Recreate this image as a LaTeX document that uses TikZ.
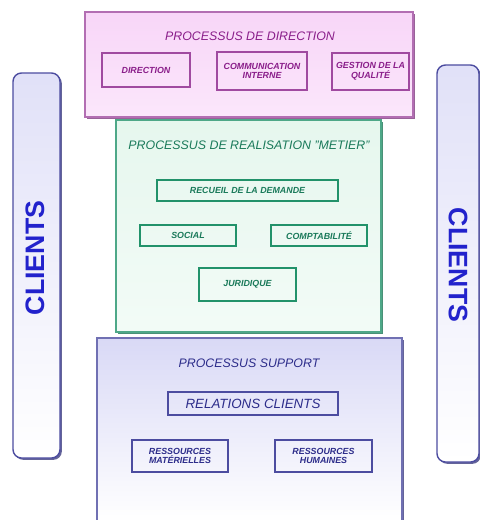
\documentclass[tikz,border=0pt]{standalone}
\usepackage{fontspec}
\setmainfont{Liberation Sans}
\usetikzlibrary{fit,shadows}

\definecolor{dirline}{HTML}{A04AA0}
\definecolor{dirfill}{HTML}{F8D6F8}
\definecolor{dirtext}{HTML}{8A1E8A}
\definecolor{metline}{HTML}{22926A}
\definecolor{metfill}{HTML}{E6F7EE}
\definecolor{mettext}{HTML}{1A7A5A}
\definecolor{supline}{HTML}{4C4CA0}
\definecolor{supfill}{HTML}{D9D9F6}
\definecolor{suptext}{HTML}{2C2C8A}
\definecolor{clitext}{HTML}{2222CC}

\tikzset{
  zone/.style={draw=#1line!80, line width=1pt, inner sep=0pt,
    drop shadow={shadow xshift=1.3pt, shadow yshift=-1.3pt, fill=#1line!80!black, opacity=0.8}},
  subbox/.style={draw=#1line, line width=1.5pt, inner sep=0pt},
  subtext/.style={align=center, text=#1text, inner sep=0pt,
    font=\fontsize{6.3}{6.8}\selectfont\bfseries\itshape},
  ztitle/.style={text=#1text, font=\fontsize{8.8}{10}\selectfont\itshape},
  clientbar/.style={draw=supline, line width=1pt, rounded corners=6pt, inner sep=0pt,
    top color=supfill!80, bottom color=white,
    drop shadow={shadow xshift=1.3pt, shadow yshift=-1.3pt, fill=supline!80!black, opacity=0.8}},
  clienttext/.style={text=clitext, font=\fontsize{19}{20}\selectfont\bfseries}
}

\begin{document}
\begin{tikzpicture}[x=0.025cm, y=-0.025cm]
    \useasboundingbox (0,0) rectangle (480,520);

    % Clients bars
    \node[clientbar, fit={(13,73) (60,458)}] (clientsL) {};
    \node[clienttext, rotate=90] (clientsLtxt) at (35,258) {CLIENTS};
    \node[clientbar, fit={(437,65) (479,462)}] (clientsR) {};
    \node[clienttext, rotate=-90] (clientsRtxt) at (458,265) {CLIENTS};

    % Processus de direction
    \node[zone=dir, top color=dirfill, bottom color=dirfill!60, fit={(85,12) (413,117)}] (direction) {};
    \node[ztitle=dir] (dirtitle) at (250,36) {PROCESSUS DE DIRECTION};
    \node[subbox=dir, fit={(102,53) (190,87)}] (dirbox) {};
    \node[subtext=dir] at (dirbox) {DIRECTION};
    \node[subbox=dir, fit={(217,52) (307,90)}] (comint) {};
    \node[subtext=dir] at (comint) {COMMUNICATION\\INTERNE};
    \node[subbox=dir, fit={(332,53) (409,90)}] (qualite) {};
    \node[subtext=dir] at (qualite) {GESTION DE LA\\QUALITÉ};

    % Processus de realisation metier
    \node[zone=met, top color=metfill, bottom color=metfill!50, fit={(116,120) (381,332)}] (metier) {};
    \node[ztitle=met] (mettitle) at (249,145) {PROCESSUS DE REALISATION "METIER"};
    \node[subbox=met, fit={(157,180) (338,201)}] (recueil) {};
    \node[subtext=met] at (recueil) {RECUEIL DE LA DEMANDE};
    \node[subbox=met, fit={(140,225) (236,246)}] (social) {};
    \node[subtext=met] at (social) {SOCIAL};
    \node[subbox=met, fit={(271,225) (367,246)}] (compta) {};
    \node[subtext=met] at (compta) {COMPTABILITÉ};
    \node[subbox=met, fit={(199,268) (296,301)}] (juridique) {};
    \node[subtext=met] at (juridique) {JURIDIQUE};

    % Processus support
    \node[zone=sup, top color=supfill, bottom color=white, fit={(97,338) (402,522)}] (support) {};
    \node[ztitle=sup] (suptitle) at (249,363) {PROCESSUS SUPPORT};
    \node[subbox=sup, fit={(168,392) (338,415)}] (relclients) {};
    \node[subtext=sup, font=\fontsize{9.5}{10}\selectfont\itshape] at (relclients) {RELATIONS CLIENTS};
    \node[subbox=sup, fit={(132,440) (228,472)}] (resmat) {};
    \node[subtext=sup] at (resmat) {RESSOURCES\\MATÉRIELLES};
    \node[subbox=sup, fit={(275,440) (372,472)}] (reshum) {};
    \node[subtext=sup] at (reshum) {RESSOURCES\\HUMAINES};
\end{tikzpicture}
\end{document}
